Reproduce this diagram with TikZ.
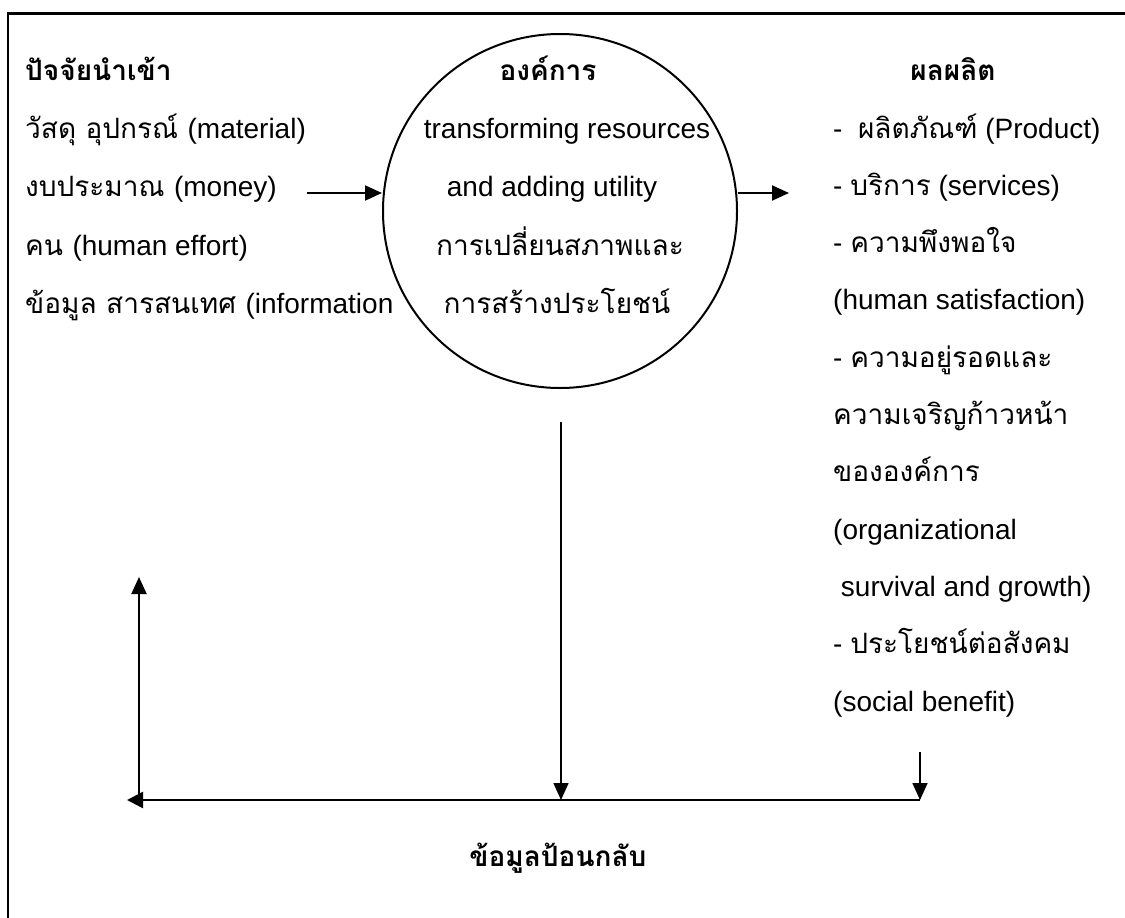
\documentclass[tikz,border=0pt]{standalone}
\usepackage{fontspec}
\setmainfont{Liberation Sans}
\newfontfamily\tf[Script=Thai]{Loma}
\usetikzlibrary{arrows.meta}
\begin{document}
\begin{tikzpicture}[x=1pt,y=-1pt,
  base/.style={font=\fontsize{28}{34}\selectfont, inner sep=0pt},
  lefttxt/.style={base, anchor=base west},
  midtxt/.style={base, anchor=base},
  head/.style={base, anchor=base, font=\fontsize{28}{34}\selectfont\bfseries},
  conn/.style={line width=1.6pt, -{Triangle[length=17pt,width=15pt]}},
  feed/.style={line width=2.4pt}]
\useasboundingbox (0,0) rectangle (1125,918);
% outer frame (runs past the right and bottom edges)
\draw[line width=2.2pt] (8,13.5) rectangle (1140,940);

% organisation circle
\node[draw, circle, line width=2pt, minimum size=354pt, inner sep=0pt] (org) at (560,211) {};

% inputs
\node[head, anchor=base west] (inH) at (25,80) {\tf ปัจจัยนำเข้า};
\node[lefttxt] (in1) at (25,138) {\tf วัสดุ อุปกรณ์ \rmfamily(material)};
\node[lefttxt] (in2) at (25,196.5) {\tf งบประมาณ \rmfamily(money)};
\node[lefttxt] (in3) at (25,255) {\tf คน \rmfamily(human effort)};
\node[lefttxt] (in4) at (25,313.5) {\tf ข้อมูล สารสนเทศ \rmfamily(information};

% organisation text
\node[head] (orgH) at (548,80) {\tf องค์การ};
\node[midtxt] (org1) at (567,138) {transforming resources};
\node[midtxt] (org2) at (552,196.5) {and adding utility};
\node[midtxt] (org3) at (560,255) {\tf การเปลี่ยนสภาพและ};
\node[midtxt] (org4) at (557,313.5) {\tf การสร้างประโยชน์};

% outputs
\node[head] (outH) at (953,80) {\tf ผลผลิต};
\node[lefttxt] (out1) at (833,138) {-\ \ {\tf ผลิตภัณฑ์} (Product)};
\node[lefttxt] (out2) at (833,195.3) {- {\tf บริการ} (services)};
\node[lefttxt] (out3) at (833,252.6) {- {\tf ความพึงพอใจ}};
\node[lefttxt] (out4) at (833,309.9) {(human satisfaction)};
\node[lefttxt] (out5) at (833,367.2) {- {\tf ความอยู่รอดและ}};
\node[lefttxt] (out6) at (833,424.5) {\tf ความเจริญก้าวหน้า};
\node[lefttxt] (out7) at (833,481.8) {\tf ขององค์การ};
\node[lefttxt] (out8) at (833,539.1) {(organizational};
\node[lefttxt] (out9) at (833,596.4) {\ survival and growth)};
\node[lefttxt] (out10) at (833,653.7) {- {\tf ประโยชน์ต่อสังคม}};
\node[lefttxt] (out11) at (833,711) {(social benefit)};

% feedback label
\node[head] (fb) at (558,866) {\tf ข้อมูลป้อนกลับ};

% connector end points
\coordinate (inStart) at (307,193);
\coordinate (outEnd) at (789,193);
\coordinate (midTop) at (561,422);
\coordinate (midBot) at (561,800);
\coordinate (rTop) at (920,752);
\coordinate (rBot) at (920,800);
\coordinate (lEnd) at (127,800);
\coordinate (lBot) at (139,800);
\coordinate (lTop) at (139,577);

% flow arrows
\draw[conn, line width=2pt] (inStart) -- (inStart -| org.west);
\draw[conn, line width=2pt] (outEnd -| org.east) -- (outEnd);
\draw[conn] (midTop) -- (midBot);
\draw[conn] (rTop) -- (rBot);
\draw[feed, -{Triangle[length=16pt,width=16pt]}] (rBot) -- (lEnd);
\draw[conn, line width=2pt] (lBot) -- (lTop);
\end{tikzpicture}
\end{document}
